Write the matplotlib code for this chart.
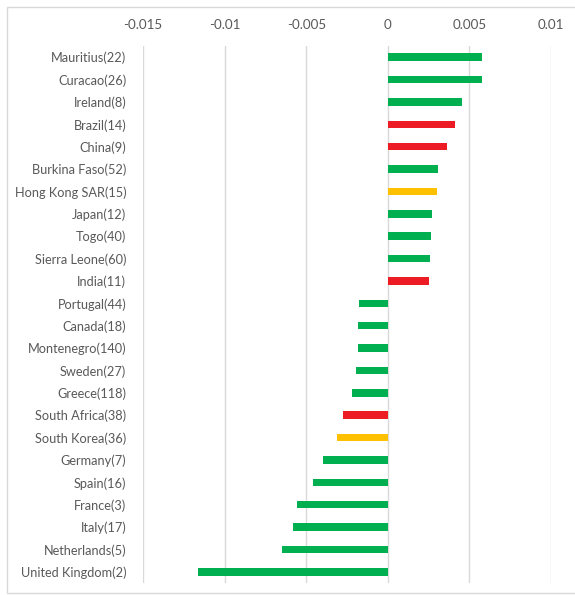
import matplotlib
matplotlib.use("Agg")
import matplotlib.pyplot as plt
from matplotlib.patches import Rectangle

countries = [
    "Mauritius(22)", "Curacao(26)", "Ireland(8)", "Brazil(14)", "China(9)",
    "Burkina Faso(52)", "Hong Kong SAR(15)", "Japan(12)", "Togo(40)",
    "Sierra Leone(60)", "India(11)", "Portugal(44)", "Canada(18)",
    "Montenegro(140)", "Sweden(27)", "Greece(118)", "South Africa(38)",
    "South Korea(36)", "Germany(7)", "Spain(16)", "France(3)", "Italy(17)",
    "Netherlands(5)", "United Kingdom(2)",
]
values = [
    0.00578, 0.00580, 0.00455, 0.00414, 0.00363, 0.00309, 0.00303, 0.00270,
    0.00265, 0.00261, 0.00255, -0.00177, -0.00184, -0.00184, -0.00192,
    -0.00220, -0.00277, -0.00310, -0.00400, -0.00457, -0.00555, -0.00583,
    -0.00649, -0.01161,
]
groups = list("GGGRRGOGGGRGGGGGROGGGGGG")
group_colors = {"G": "#00B050", "R": "#ED1C24", "O": "#FFC000"}
xticks = [-0.015, -0.01, -0.005, 0, 0.005, 0.01]
xtick_labels = ["-0.015", "-0.01", "-0.005", "0", "0.005", "0.01"]

plt.rcParams["font.family"] = ["Lato", "DejaVu Sans"]
text_color = "#595959"

W, H = 575, 595
fig = plt.figure(figsize=(W / 100, H / 100), dpi=100)
ax = fig.add_axes([143 / W, 1 - 583 / H, (551 - 143) / W, (583 - 46) / H])

ypos = list(range(len(countries)))
ax.barh(ypos, values, height=0.34, color=[group_colors[g] for g in groups], zorder=3)

ax.set_ylim(len(countries) - 0.5, -0.5)
ax.set_xlim(-0.015, 0.01)
ax.set_yticks(ypos)
ax.set_yticklabels(countries, fontsize=9.2, color=text_color)
ax.set_xticks(xticks)
ax.set_xticklabels(xtick_labels, fontsize=9.6, color=text_color)
ax.xaxis.tick_top()
ax.tick_params(axis="both", length=0)
ax.tick_params(axis="y", pad=12)
ax.tick_params(axis="x", pad=11)
ax.grid(axis="x", color="#D9D9D9", linewidth=1, zorder=0)
for s in ax.spines.values():
    s.set_visible(False)

# light frame around the whole chart
fig.patches.append(Rectangle((6.5 / W, 2 / H), 1.0, 1 - 9 / H,
                             transform=fig.transFigure, fill=False,
                             edgecolor="#D9D9D9", linewidth=1))

fig.savefig("out.png", dpi=100)
